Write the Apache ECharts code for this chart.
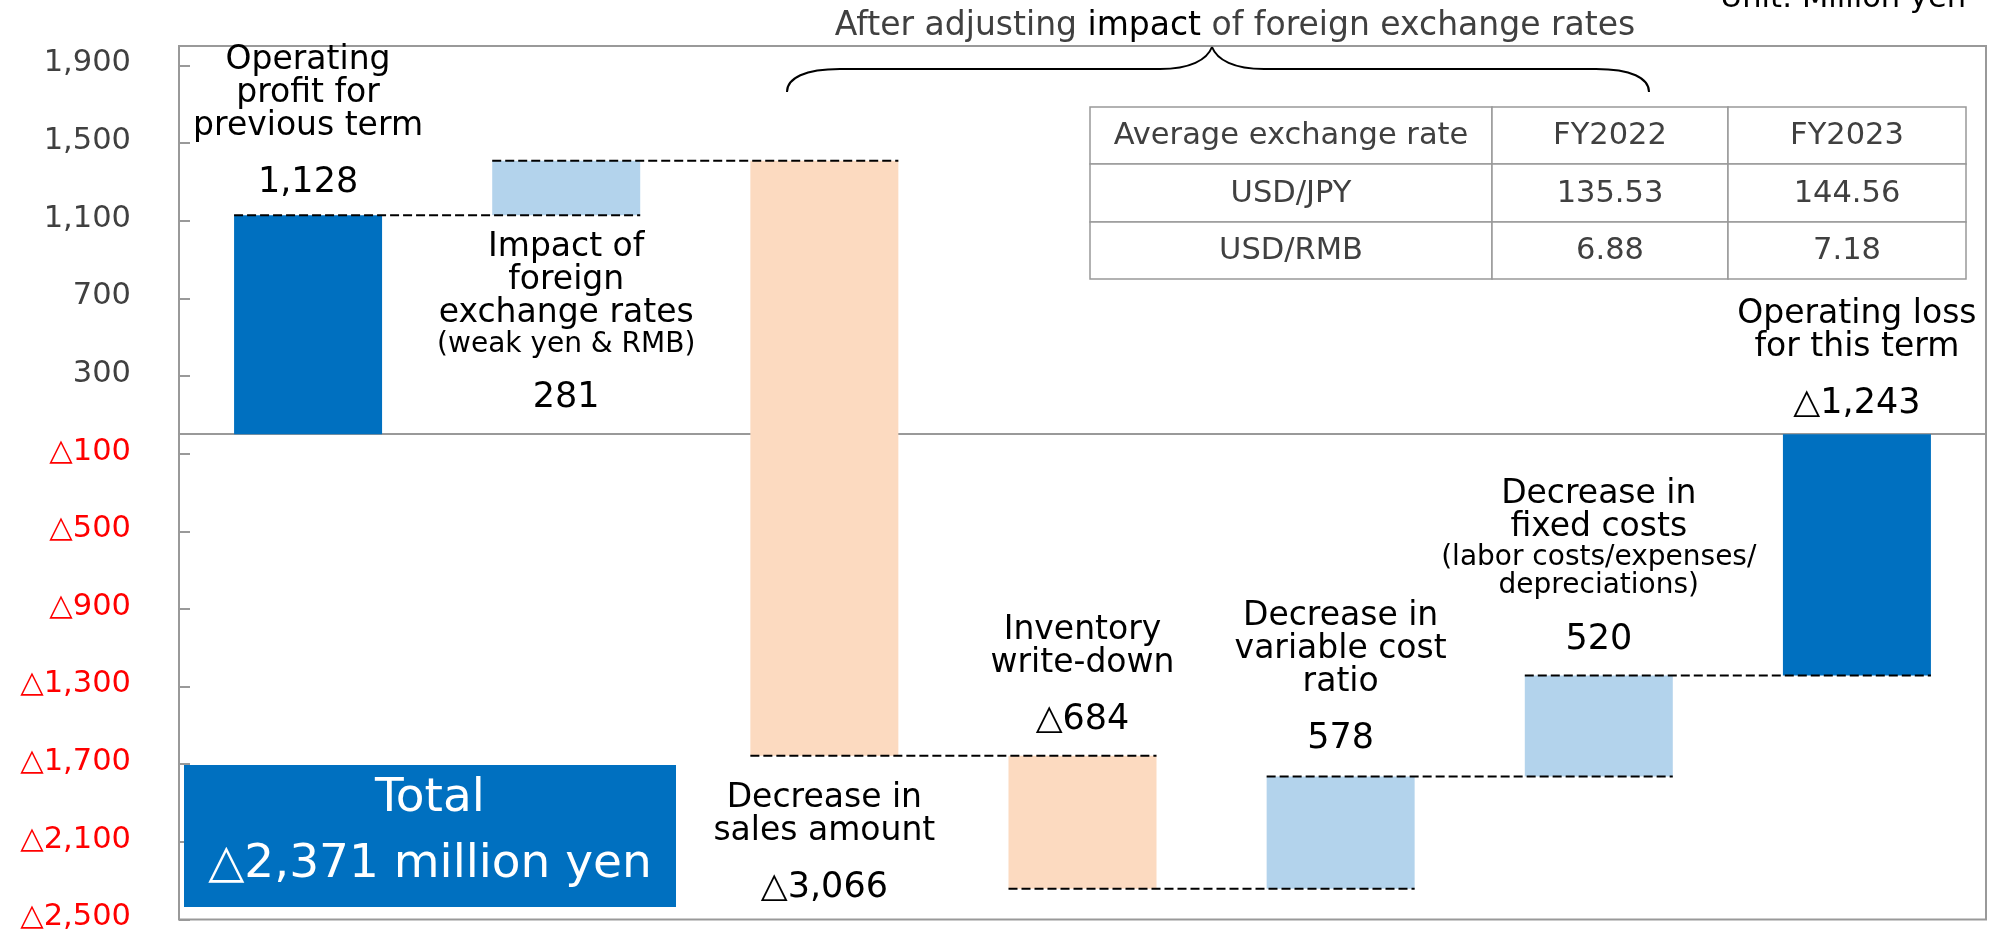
<!DOCTYPE html>
<html>
<head>
<meta charset="utf-8">
<title>Operating profit bridge</title>
<script src="https://cdn.jsdelivr.net/npm/echarts@6/dist/echarts.min.js"></script>
<style>
    html, body { margin: 0; padding: 0; background: #fff; }
    #main { width: 1991px; height: 933px; }
</style>
</head>
<body>
<div id="main"></div>
<script>
// data (million yen)
var steps = ['Operating\nprofit for\nprevious term', 'Impact of\nforeign\nexchange rates', 'Decrease in\nsales amount',
    'Inventory\nwrite-down', 'Decrease in\nvariable cost\nratio', 'Decrease in\nfixed costs', 'Operating loss\nfor this term'];
var stepNotes = ['', '(weak yen & RMB)', '', '', '', '(labor costs/expenses/\ndepreciations)', ''];
var changes = [1128, 281, -3066, -684, 578, 520, -1243];
var isTotal = [true, false, false, false, false, false, true];
var yMin = -2500, yMax = 2000, yStep = 400;

var rateHeader = ['Average exchange rate', 'FY2022', 'FY2023'];
var rateRows = [['USD/JPY', '135.53', '144.56'], ['USD/RMB', '6.88', '7.18']];

var FONT = "'DejaVu Sans', 'Noto Sans', sans-serif";
var BAR_W = 148;
// where each bar's text sits (below the bar or above it) and how far away
var labelBelow = [false, true, true, false, false, false, false];
var labelDist = [-8, 16, 26, -4, -2, -4, -10];

function fmt(v) {
    var s = Math.abs(v).toLocaleString('en-US');
    return v < 0 ? '\u25B3' + s : s;
}

// waterfall: transparent base + visible height
var lower = [], height = [], connectors = [];
var level = 0;
changes.forEach(function (v, i) {
    var start = isTotal[i] ? 0 : level;
    var end = isTotal[i] ? v : level + v;
    lower.push(Math.min(start, end));
    height.push(Math.abs(end - start));
    level = end;
    if (i < changes.length - 1) connectors.push([i, level]);
});

function barColor(i) {
    if (isTotal[i]) return '#0070C0';
    return changes[i] > 0 ? '#B3D3EC' : '#FCDAC0';
}

function labelText(i) {
    var parts = steps[i].split('\n').map(function (s) { return '{d|' + s + '}'; });
    if (stepNotes[i]) {
        stepNotes[i].split('\n').forEach(function (s) { parts.push('{n|' + s + '}'); });
    }
    parts.push('{v|' + fmt(changes[i]) + '}');
    return parts.join('\n');
}

var visible = height.map(function (h, i) {
    return {
        value: h,
        itemStyle: { color: barColor(i) },
        label: {
            position: labelBelow[i] ? 'bottom' : 'top',
            distance: labelDist[i]
        }
    };
});

var totalDiff = changes[changes.length - 1] - changes[0];

// table cells
var colX = [1090, 1492, 1728, 1966];
var rowY = [107, 164, 222, 279];
var tableEls = [];
[rateHeader].concat(rateRows).forEach(function (row, r) {
    row.forEach(function (txt, c) {
        tableEls.push({
            type: 'rect',
            shape: { x: colX[c], y: rowY[r], width: colX[c + 1] - colX[c], height: rowY[r + 1] - rowY[r] },
            style: { fill: '#fff', stroke: '#999', lineWidth: 1.5 }
        });
        tableEls.push({
            type: 'text',
            x: (colX[c] + colX[c + 1]) / 2,
            y: (rowY[r] + rowY[r + 1]) / 2 + 1,
            style: { text: txt, fill: '#404040', fontSize: 30.5, fontFamily: FONT, align: 'center', verticalAlign: 'middle' }
        });
    });
});

// curly brace over the middle bars
var braceStyle = { stroke: '#000', lineWidth: 2, fill: null };
var braceEls = [
    { type: 'bezierCurve', shape: { x1: 787, y1: 92, cpx1: 787, cpy1: 78, cpx2: 805, cpy2: 69, x2: 840, y2: 69 }, style: braceStyle },
    { type: 'line', shape: { x1: 840, y1: 69, x2: 1160, y2: 69 }, style: braceStyle },
    { type: 'bezierCurve', shape: { x1: 1160, y1: 69, cpx1: 1190, cpy1: 69, cpx2: 1207, cpy2: 60, x2: 1212, y2: 47 }, style: braceStyle },
    { type: 'bezierCurve', shape: { x1: 1212, y1: 47, cpx1: 1217, cpy1: 60, cpx2: 1234, cpy2: 69, x2: 1264, y2: 69 }, style: braceStyle },
    { type: 'line', shape: { x1: 1264, y1: 69, x2: 1596, y2: 69 }, style: braceStyle },
    { type: 'bezierCurve', shape: { x1: 1596, y1: 69, cpx1: 1631, cpy1: 69, cpx2: 1649, cpy2: 78, x2: 1649, y2: 92 }, style: braceStyle }
];

var myChart = echarts.init(document.getElementById('main'));
var option = {
    animation: false,
    grid: { left: 179, right: 5, top: 46, bottom: 13, show: true, borderColor: '#999', borderWidth: 2 },
    xAxis: {
        type: 'category',
        data: steps,
        axisLine: { onZero: true, lineStyle: { color: '#999', width: 2 } },
        axisTick: { show: false },
        axisLabel: { show: false },
        splitLine: { show: false }
    },
    yAxis: {
        type: 'value',
        min: yMin,
        max: yMax,
        interval: yStep,
        axisLine: { show: false },
        axisTick: { show: true, inside: true, length: 11, lineStyle: { color: '#999', width: 2 } },
        splitLine: { show: false },
        axisLabel: {
            margin: 48,
            fontSize: 30.5,
            fontFamily: FONT,
            color: '#404040',
            padding: [0, 0, 4, 0],
            showMaxLabel: false,
            formatter: function (v) {
                return v < 0 ? '{neg|' + fmt(v) + '}' : fmt(v);
            },
            rich: { neg: { color: '#FF0000', fontSize: 30.5, fontFamily: FONT } }
        }
    },
    series: [
        {
            type: 'bar',
            stack: 'wf',
            stackStrategy: 'all',
            barWidth: BAR_W,
            silent: true,
            itemStyle: { color: 'rgba(0,0,0,0)' },
            data: lower
        },
        {
            type: 'bar',
            stack: 'wf',
            stackStrategy: 'all',
            barWidth: BAR_W,
            data: visible,
            label: {
                show: true,
                formatter: function (p) { return labelText(p.dataIndex); },
                align: 'center',
                rich: {
                    d: { fontSize: 33, lineHeight: 33, color: '#000', fontFamily: FONT, align: 'center' },
                    n: { fontSize: 28, lineHeight: 28, color: '#000', fontFamily: FONT, align: 'center' },
                    v: { fontSize: 35, lineHeight: 80, color: '#000', fontFamily: FONT, align: 'center' }
                }
            }
        },
        {
            type: 'custom',
            data: connectors,
            encode: { x: 0, y: 1 },
            z: 5,
            silent: true,
            renderItem: function (params, api) {
                var a = api.coord([api.value(0), api.value(1)]);
                var b = api.coord([api.value(0) + 1, api.value(1)]);
                return {
                    type: 'line',
                    shape: { x1: a[0] - BAR_W / 2, y1: a[1], x2: b[0] + BAR_W / 2, y2: b[1] },
                    style: { stroke: '#000', lineWidth: 2, lineDash: [9, 4] }
                };
            }
        }
    ],
    graphic: [
        {
            type: 'text', x: 1235, y: 26, z: 100,
            style: {
                text: '{g|After adjusting }{k|impact}{g| of foreign exchange rates}',
                align: 'center', verticalAlign: 'middle',
                rich: {
                    g: { fontSize: 33, fontFamily: FONT, fill: '#404040', color: '#404040' },
                    k: { fontSize: 33, fontFamily: FONT, fill: '#000', color: '#000' }
                }
            }
        },
        {
            type: 'text', x: 1966, y: -1, z: 100,
            style: { text: 'Unit: Million yen', fontSize: 30.5, fontFamily: FONT, fill: '#000', align: 'right', verticalAlign: 'middle' }
        },
        { type: 'group', z: 100, children: braceEls },
        { type: 'group', z: 100, children: tableEls },
        {
            type: 'rect', z: 100,
            shape: { x: 184, y: 765, width: 492, height: 142 },
            style: { fill: '#0070C0' }
        },
        {
            type: 'text', x: 430, y: 832, z: 101,
            style: {
                text: 'Total\n' + fmt(totalDiff) + ' million yen',
                fill: '#fff', fontSize: 47, lineHeight: 66, fontFamily: FONT,
                align: 'center', verticalAlign: 'middle'
            }
        }
    ]
};
myChart.setOption(option);
window.addEventListener('resize', function () {
    myChart.resize();
});
</script>
</body>
</html>
